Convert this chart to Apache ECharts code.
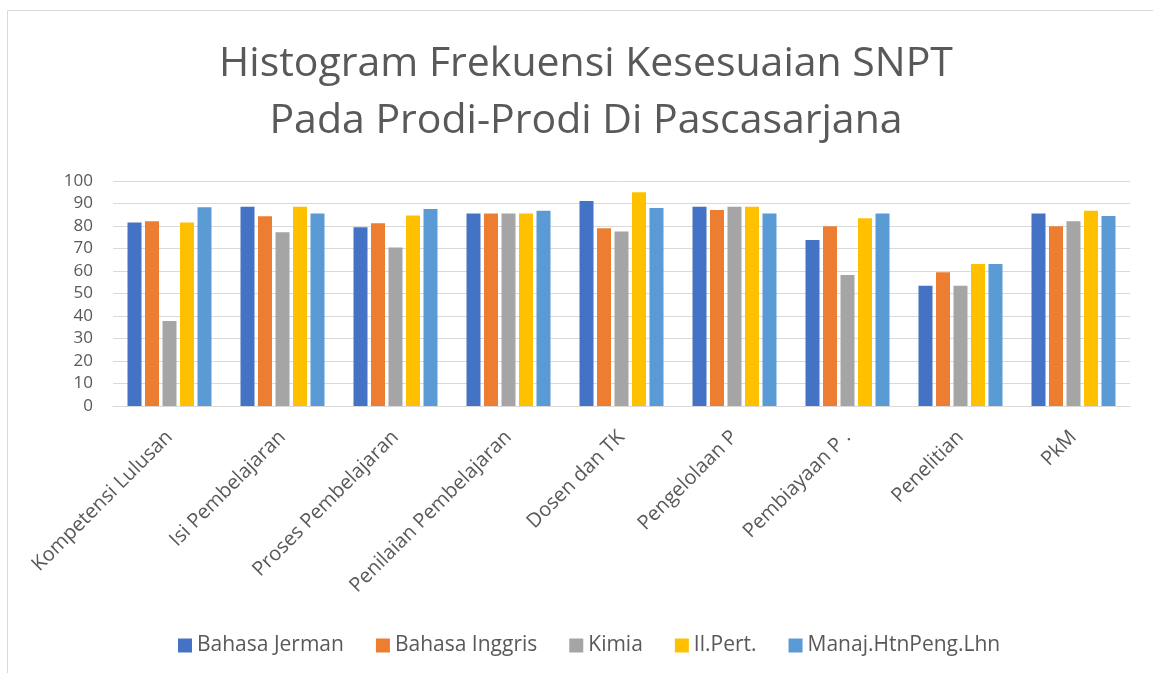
<!DOCTYPE html>
<html>
<head>
<meta charset="utf-8">
<script src="https://cdn.jsdelivr.net/npm/echarts@6/dist/echarts.min.js"></script>
<style>
html,body{margin:0;padding:0;background:#fff;}
#chart{width:1153px;height:673px;}
</style>
</head>
<body>
<div id="chart"></div>
<script>
const categories = ["Kompetensi Lulusan","Isi Pembelajaran","Proses Pembelajaran","Penilaian Pembelajaran","Dosen dan TK","Pengelolaan P","Pembiayaan P .","Penelitian","PkM"];
const bahasaJerman  = [81.6, 88.6, 79.4, 85.6, 91.1, 88.6, 73.8, 53.5, 85.6];
const bahasaInggris = [82.1, 84.3, 81.2, 85.6, 79.0, 87.1, 79.9, 59.4, 79.9];
const kimia         = [37.8, 77.2, 70.5, 85.6, 77.6, 88.6, 58.2, 53.5, 82.1];
const ilPert        = [81.6, 88.6, 84.7, 85.6, 95.0, 88.6, 83.4, 63.1, 86.8];
const manajHtn      = [88.3, 85.6, 87.6, 86.8, 88.0, 85.6, 85.6, 63.1, 84.4];
const seriesNames = ["Bahasa Jerman","Bahasa Inggris","Kimia","Il.Pert.","Manaj.HtnPeng.Lhn"];
const seriesData = [bahasaJerman, bahasaInggris, kimia, ilPert, manajHtn];
const colors = ["#4472C4","#ED7D31","#A5A5A5","#FFC000","#5B9BD5"];

const chart = echarts.init(document.getElementById('chart'), null, {renderer:'canvas'});
const font = "'Open Sans', sans-serif";
chart.setOption({
  animation:false,
  color: colors,
  textStyle:{fontFamily:font},
  graphic:[{type:'rect',shape:{x:7.5,y:10.5,width:1150,height:700},style:{fill:'none',stroke:'#D9D9D9',lineWidth:1},silent:true}],
  title:{
    text:"Histogram Frekuensi Kesesuaian SNPT\nPada Prodi-Prodi Di Pascasarjana",
    left:581, top:31, textAlign:'center',
    textStyle:{fontFamily:font,fontWeight:400,fontSize:41,color:'#595959',lineHeight:57}
  },
  legend:{
    top:630, left:173, padding:5,
    itemWidth:14, itemHeight:14, itemGap:32,
    icon:'rect',
    textStyle:{fontFamily:font,fontSize:21,color:'#595959'},
    data: seriesNames
  },
  grid:{left:113,right:23,top:181,bottom:267,containLabel:false},
  xAxis:{
    type:'category', data:categories,
    axisLine:{lineStyle:{color:'#D9D9D9',width:1}},
    axisTick:{show:false},
    axisLabel:{rotate:45,fontSize:20,color:'#595959',margin:28,fontFamily:font,interval:0}
  },
  yAxis:{
    type:'value', min:0, max:100, interval:10,
    axisLine:{show:false}, axisTick:{show:false},
    splitLine:{lineStyle:{color:'#D9D9D9',width:1}},
    axisLabel:{fontSize:17,color:'#595959',margin:20,fontFamily:font}
  },
  series: seriesNames.map((n,i)=>({
    name:n, type:'bar', data:seriesData[i],
    barWidth:14, barGap:'25%',
    itemStyle:{color:colors[i]}
  }))
});
</script>
</body>
</html>
